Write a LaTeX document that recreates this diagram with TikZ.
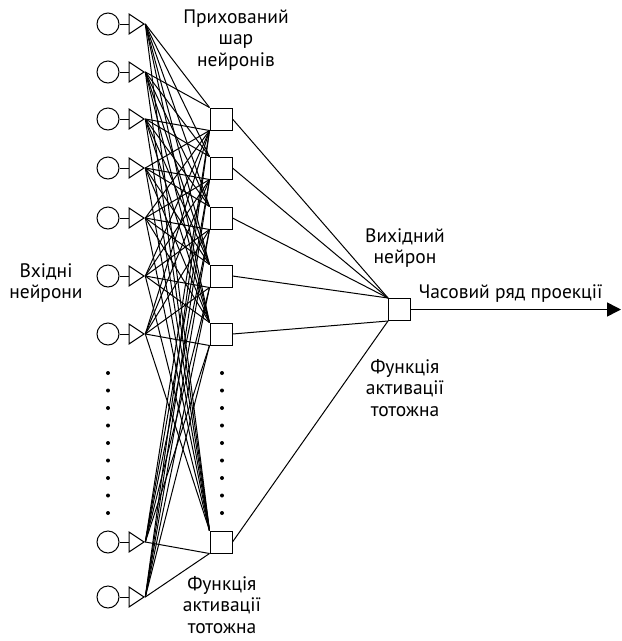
\documentclass[tikz,border=0pt]{standalone}
\usepackage{fontspec}
\setmainfont{PT Sans}
\usepackage{tikz}
\usetikzlibrary{arrows.meta}
\usetikzlibrary{shapes.geometric}
\usetikzlibrary{positioning}

\begin{document}
\begin{tikzpicture}[x=1pt,y=-1pt,-,line width=1pt,font=\fontsize{19.5}{21.5}\selectfont]
	\tikzstyle{inp}=[circle, draw, minimum size=22pt, inner sep=0pt]
	\tikzstyle{tri}=[isosceles triangle, isosceles triangle stretches, draw, minimum width=20pt, minimum height=15pt, inner sep=0pt]
	\tikzstyle{unit}=[rectangle, draw, minimum size=22pt, inner sep=0pt]
	\tikzstyle{lbl}=[align=center, inner sep=0pt]
	\useasboundingbox (0,0) rectangle (622,641);

	% input layer
	\foreach \i/\y in {1/24,2/72,3/119,4/168,5/218,6/276,7/334,8/542,9/597}{
		\node[inp] (c\i) at (108,\y) {};
		\node[tri, right=9pt of c\i] (t\i) {};
		\draw (c\i) -- (t\i);
	}
	% hidden layer
	\foreach \j/\y in {1/119,2/168,3/218,4/276,5/334,6/542}{
		\node[unit] (h\j) at (221,\y) {};
	}
	\node[unit] (out) at (399.5,309.5) {};
	\coordinate (end) at (621,309.5);

	\foreach \y in {373,390.5,...,514}{
		\fill (108,\y) circle (2pt);
		\fill (222,\y) circle (2pt);
	}

	\foreach \i/\yi in {1/24,2/72,3/119,4/168,5/218,6/276,7/334,8/542,9/597}{
		\foreach \j/\yj in {1/119,2/168,3/218,4/276,5/334,6/542}{
			\ifnum\yi<\yj \def\anc{north west}\else\def\anc{south west}\fi
			\draw (t\i.apex) -- (h\j.\anc);
		}
	}
	\foreach \j in {1,...,4}
		\draw (h\j.east) -- (out.north west);
	\foreach \j in {5,6}
		\draw (h\j.east) -- (out.south west);
	\draw[line width=1.6pt,-{Triangle[length=14pt,width=14pt]}] (out) -- (end);

	\node[lbl] (hlab) at (236,40) {Прихований\\шар\\нейронів};
	\node[lbl] (ilab) at (46,283) {Вхідні\\нейрони};
	\node[lbl] (olab) at (405,248) {Вихідний\\нейрон};
	\node[lbl] (fout) at (405,388) {Функція\\активації\\тотожна};
	\node[lbl] (fhid) at (222,605) {Функція\\активації\\тотожна};
	\node[lbl, anchor=west] (tlab) at (418,294) {Часовий ряд проекції};
\end{tikzpicture}
\end{document}
